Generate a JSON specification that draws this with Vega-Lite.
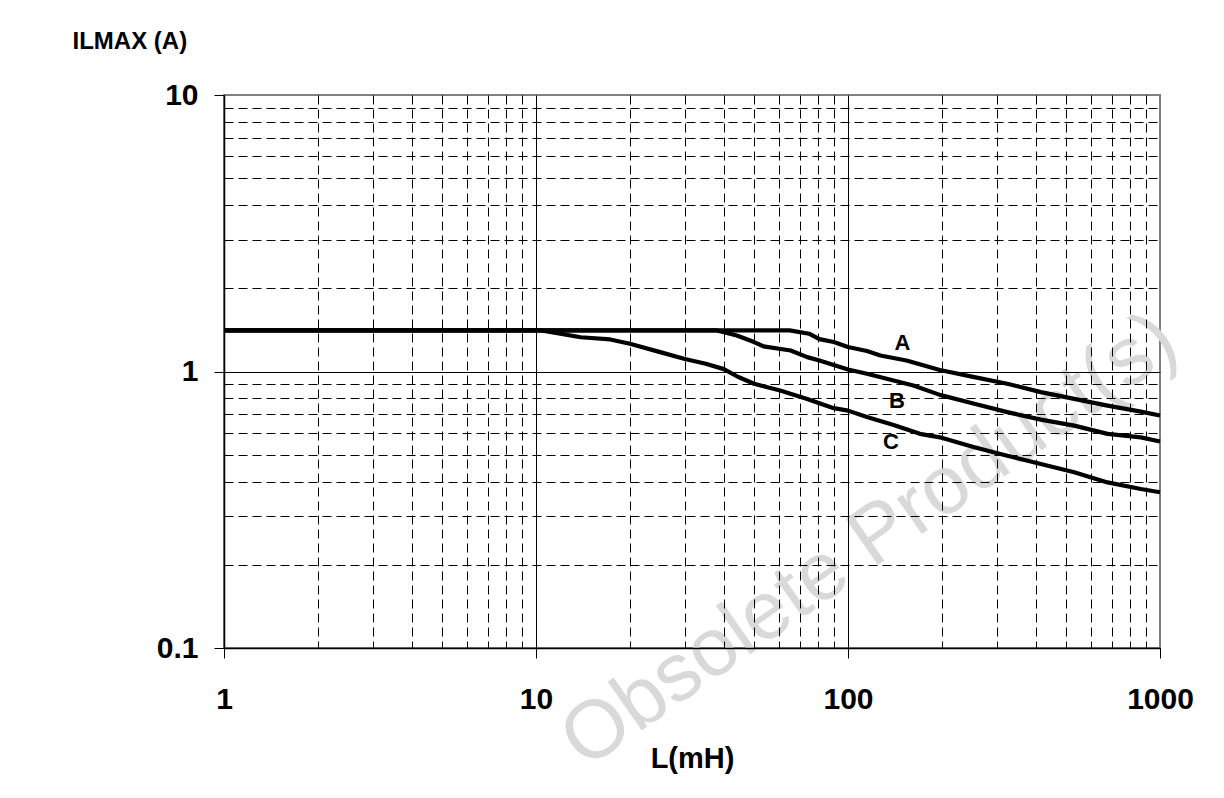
{
  "$schema": "https://vega.github.io/schema/vega-lite/v6.json",
  "width": 936,
  "height": 553,
  "autosize": {"type": "none"},
  "padding": {"left": 224, "top": 95, "right": 64, "bottom": 150},
  "background": "white",
  "config": {"view": {"stroke": "#808080", "strokeWidth": 2}, "font": "Liberation Sans"},
  "datasets": {
    "curves": [
      {"curve": "A", "L": 1, "I": 1.408}, {"curve": "A", "L": 65, "I": 1.408}, {"curve": "A", "L": 75, "I": 1.37},
      {"curve": "A", "L": 81, "I": 1.31}, {"curve": "A", "L": 90, "I": 1.278}, {"curve": "A", "L": 100, "I": 1.226},
      {"curve": "A", "L": 115, "I": 1.186}, {"curve": "A", "L": 127, "I": 1.143}, {"curve": "A", "L": 154, "I": 1.096},
      {"curve": "A", "L": 197, "I": 1.012}, {"curve": "A", "L": 254, "I": 0.954}, {"curve": "A", "L": 324, "I": 0.903},
      {"curve": "A", "L": 415, "I": 0.842}, {"curve": "A", "L": 531, "I": 0.796}, {"curve": "A", "L": 679, "I": 0.753},
      {"curve": "A", "L": 868, "I": 0.716}, {"curve": "A", "L": 1000, "I": 0.693},
      {"curve": "B", "L": 1, "I": 1.408}, {"curve": "B", "L": 38, "I": 1.408}, {"curve": "B", "L": 44, "I": 1.35},
      {"curve": "B", "L": 50, "I": 1.278}, {"curve": "B", "L": 53.6, "I": 1.232}, {"curve": "B", "L": 65.5, "I": 1.191},
      {"curve": "B", "L": 74, "I": 1.127}, {"curve": "B", "L": 81, "I": 1.096}, {"curve": "B", "L": 100, "I": 1.017},
      {"curve": "B", "L": 115, "I": 0.981}, {"curve": "B", "L": 133, "I": 0.941}, {"curve": "B", "L": 162, "I": 0.89},
      {"curve": "B", "L": 197, "I": 0.823}, {"curve": "B", "L": 254, "I": 0.764}, {"curve": "B", "L": 324, "I": 0.713},
      {"curve": "B", "L": 415, "I": 0.67}, {"curve": "B", "L": 531, "I": 0.637}, {"curve": "B", "L": 679, "I": 0.595},
      {"curve": "B", "L": 868, "I": 0.578}, {"curve": "B", "L": 1000, "I": 0.558},
      {"curve": "C", "L": 1, "I": 1.408}, {"curve": "C", "L": 10.4, "I": 1.408}, {"curve": "C", "L": 13.9, "I": 1.33},
      {"curve": "C", "L": 17.3, "I": 1.306}, {"curve": "C", "L": 20, "I": 1.26}, {"curve": "C", "L": 25, "I": 1.175},
      {"curve": "C", "L": 30, "I": 1.11}, {"curve": "C", "L": 35, "I": 1.066}, {"curve": "C", "L": 40, "I": 1.02},
      {"curve": "C", "L": 44.5, "I": 0.955}, {"curve": "C", "L": 50, "I": 0.903}, {"curve": "C", "L": 60.6, "I": 0.853},
      {"curve": "C", "L": 74, "I": 0.796}, {"curve": "C", "L": 90, "I": 0.737}, {"curve": "C", "L": 100, "I": 0.722},
      {"curve": "C", "L": 115, "I": 0.684}, {"curve": "C", "L": 140, "I": 0.641}, {"curve": "C", "L": 170, "I": 0.595},
      {"curve": "C", "L": 197, "I": 0.578}, {"curve": "C", "L": 254, "I": 0.532}, {"curve": "C", "L": 324, "I": 0.496},
      {"curve": "C", "L": 415, "I": 0.463}, {"curve": "C", "L": 531, "I": 0.432}, {"curve": "C", "L": 679, "I": 0.397},
      {"curve": "C", "L": 868, "I": 0.376}, {"curve": "C", "L": 1000, "I": 0.366}
    ],
    "labels": [
      {"text": "A", "L": 149.5, "I": 1.265},
      {"text": "B", "L": 143.6, "I": 0.783},
      {"text": "C", "L": 137.3, "I": 0.557}
    ],
    "watermark": [
      {"text": "Obsolete Product(s)", "L": 117, "I": 0.245}
    ]
  },
  "encoding": {
    "x": {
      "field": "L", "type": "quantitative",
      "scale": {"type": "log", "domain": [1, 1000], "nice": false},
      "axis": {
        "title": "L(mH)",
        "values": [1,2,3,4,5,6,7,8,9,10,20,30,40,50,60,70,80,90,100,200,300,400,500,600,700,800,900,1000],
        "format": "~g",
        "labelExpr": "indexof([1,10,100,1000], datum.value) >= 0 ? datum.label : ''",
        "grid": true, "gridColor": "black", "gridWidth": 1,
        "gridDash": {"condition": {"test": "indexof([1,10,100,1000], datum.value) >= 0", "value": []}, "value": [9, 5]},
        "gridOpacity": {"condition": {"test": "datum.value == 1000", "value": 0}, "value": 1},
        "tickColor": "black", "tickSize": 10, "tickWidth": 1,
        "tickOpacity": {"condition": {"test": "indexof([1,10,100,1000], datum.value) >= 0", "value": 1}, "value": 0},
        "domainColor": "black", "domainWidth": 1.5,
        "labelFont": "Liberation Sans", "labelFontSize": 30, "labelFontWeight": "bold", "labelColor": "black",
        "labelPadding": 26, "labelFlush": false, "labelOverlap": false,
        "titleFont": "Liberation Sans", "titleFontSize": 29, "titleFontWeight": "bold", "titleColor": "black",
        "titlePadding": 30,
        "zindex": 1
      }
    },
    "y": {
      "field": "I", "type": "quantitative",
      "scale": {"type": "log", "domain": [0.1, 10], "nice": false},
      "axis": {
        "title": "ILMAX (A)",
        "values": [0.1,0.2,0.3,0.4,0.5,0.6,0.7,0.8,0.9,1,2,3,4,5,6,7,8,9,10],
        "format": "~g",
        "labelExpr": "indexof([0.1,1,10], datum.value) >= 0 ? datum.label : ''",
        "grid": true, "gridColor": "black", "gridWidth": 1,
        "gridDash": {"condition": {"test": "indexof([0.1,1,10], datum.value) >= 0", "value": []}, "value": [9, 5]},
        "gridOpacity": {"condition": {"test": "datum.value == 10", "value": 0}, "value": 1},
        "tickColor": "black", "tickSize": 10, "tickWidth": 1,
        "tickOpacity": {"condition": {"test": "indexof([0.1,1,10], datum.value) >= 0", "value": 1}, "value": 0},
        "domainColor": "black", "domainWidth": 1.5,
        "labelFont": "Liberation Sans", "labelFontSize": 30, "labelFontWeight": "bold", "labelColor": "black",
        "labelPadding": 16, "labelFlush": false, "labelOverlap": false,
        "titleFont": "Liberation Sans", "titleFontSize": 24, "titleFontWeight": "bold", "titleColor": "black",
        "titleAngle": 0, "titleAlign": "left", "titleBaseline": "alphabetic",
        "titleX": -152, "titleY": -47,
        "zindex": 1
      }
    }
  },
  "layer": [
    {
      "data": {"name": "watermark"},
      "mark": {"type": "text", "angle": -35, "fontSize": 82, "color": "#d9d9d9", "font": "Liberation Sans", "align": "center", "baseline": "middle"},
      "encoding": {"text": {"field": "text"}}
    },
    {
      "data": {"name": "curves"},
      "mark": {"type": "line", "color": "black", "strokeWidth": 4.2, "strokeJoin": "round"},
      "encoding": {"detail": {"field": "curve"}, "order": {"field": "L", "type": "quantitative"}}
    },
    {
      "data": {"name": "labels"},
      "mark": {"type": "text", "fontSize": 22, "fontWeight": "bold", "font": "Liberation Sans", "color": "black", "align": "center", "baseline": "middle"},
      "encoding": {"text": {"field": "text"}}
    }
  ]
}
